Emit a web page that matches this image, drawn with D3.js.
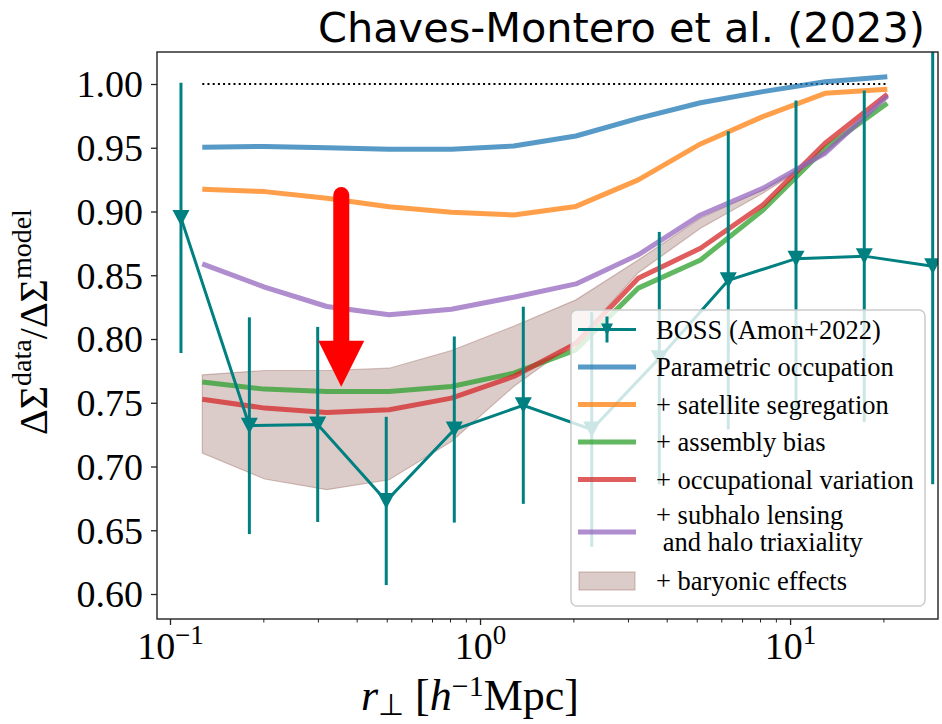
<!DOCTYPE html>
<html>
<head>
<meta charset="utf-8">
<script src="https://cdn.jsdelivr.net/npm/d3@7/dist/d3.min.js"></script>
<style>
  body { margin: 0; background: #fff; }
  svg { display: block; }
</style>
</head>
<body>
<svg id="chart" width="942" height="724"></svg>
<script>
// ---- data ----
// BOSS lensing ratio measurements (Amon+2022)
const bossR   = [0.1085, 0.1803, 0.2995, 0.4983, 0.826, 1.379, 2.292, 3.786, 6.32, 10.45, 17.35, 28.84];
const bossVal = [0.895, 0.732, 0.733, 0.673, 0.729, 0.748, 0.729, 0.785, 0.846, 0.863, 0.865, 0.857];
const bossErr = [0.106, 0.085, 0.0765, 0.066, 0.073, 0.0773, 0.092, 0.099, 0.117, 0.124, 0.130, 0.171];

// model radial bins
const modelR = [0.1271, 0.2019, 0.3206, 0.5091, 0.8085, 1.284, 2.039, 3.238, 5.142, 8.166, 12.97, 20.59];
const parametric   = [0.9504, 0.9510, 0.9500, 0.9488, 0.9488, 0.9514, 0.9592, 0.9730, 0.9853, 0.9940, 1.0018, 1.0057];
const satellite    = [0.9175, 0.9156, 0.9104, 0.9038, 0.8994, 0.8973, 0.9040, 0.9248, 0.9530, 0.9744, 0.9927, 0.9958];
const assembly     = [0.7662, 0.7607, 0.7588, 0.7588, 0.7627, 0.7732, 0.7915, 0.8399, 0.8620, 0.9010, 0.9496, 0.9849];
const occupational = [0.7528, 0.7458, 0.7424, 0.7445, 0.7536, 0.7706, 0.7965, 0.8477, 0.8712, 0.9050, 0.9535, 0.9920];
const subhalo      = [0.8589, 0.8407, 0.8255, 0.8190, 0.8234, 0.8328, 0.8432, 0.8660, 0.8973, 0.9182, 0.9457, 0.9906];
const baryonLow    = [0.7105, 0.6902, 0.6818, 0.6896, 0.7196, 0.7627, 0.7980, 0.8520, 0.8869, 0.9143, 0.9450, 0.9890];
const baryonHigh   = [0.7719, 0.7753, 0.7753, 0.7771, 0.7910, 0.8100, 0.8307, 0.8620, 0.8947, 0.9170, 0.9465, 0.9910];

const seriesNames = ["Parametric occupation", "+ satellite segregation", "+ assembly bias",
                     "+ occupational variation", "+ subhalo lensing", "+ baryonic effects"];
const bossName = "BOSS (Amon+2022)";
const subhaloSecondLine = " and halo triaxiality";

const yTicks = [0.60, 0.65, 0.70, 0.75, 0.80, 0.85, 0.90, 0.95, 1.00];
const xMajor = [0.1, 1, 10];
const xMajorExp = ["\u22121", "0", "1"];
const xMinor = [0.2,0.3,0.4,0.5,0.6,0.7,0.8,0.9, 2,3,4,5,6,7,8,9, 20];

// reference level and highlighted drop
const unityLevel = 1.0;
const arrowR = 0.3568, arrowFrom = 0.9129, arrowTo = 0.7626;

const titleText = "Chaves-Montero et al. (2023)";

// ---- layout ----
const svg = d3.select("#chart");
const L = 157, R = 938, T = 52, B = 619;

const x = d3.scaleLog().domain([0.0908, 30]).range([L, R]);
const y = d3.scaleLinear().domain([0.5804, 1.0251]).range([B, T]);

const serif = "'Liberation Serif', 'Times New Roman', serif";

const colors = {
  blue: "#1f77b4", orange: "#ff7f0e", green: "#2ca02c",
  red: "#d62728", purple: "#9467bd", brown: "#8c564b", teal: "#008080"
};

svg.append("defs").append("clipPath").attr("id", "plotclip")
  .append("rect").attr("x", L).attr("y", T).attr("width", R - L).attr("height", B - T);

const plot = svg.append("g").attr("clip-path", "url(#plotclip)");

// dotted unity line over the model range
plot.append("line")
  .attr("x1", x(modelR[0])).attr("x2", x(modelR[modelR.length - 1]))
  .attr("y1", y(unityLevel)).attr("y2", y(unityLevel))
  .attr("stroke", "#000").attr("stroke-width", 2).attr("stroke-dasharray", "2,3.2");

// baryonic band
const area = d3.area()
  .x((d, i) => x(modelR[i]))
  .y0((d, i) => y(baryonLow[i]))
  .y1((d, i) => y(baryonHigh[i]));
plot.append("path").datum(modelR)
  .attr("d", area)
  .attr("fill", colors.brown).attr("fill-opacity", 0.3)
  .attr("stroke", colors.brown).attr("stroke-opacity", 0.35).attr("stroke-width", 1.2);

// model curves
const line = d3.line().x((d, i) => x(modelR[i])).y(d => y(d));
const curves = [
  { v: parametric, c: colors.blue },
  { v: satellite, c: colors.orange },
  { v: assembly, c: colors.green },
  { v: occupational, c: colors.red },
  { v: subhalo, c: colors.purple }
];
curves.forEach(s => {
  plot.append("path").datum(s.v)
    .attr("d", line)
    .attr("fill", "none")
    .attr("stroke", s.c).attr("stroke-opacity", 0.75)
    .attr("stroke-width", 5).attr("stroke-linejoin", "round");
});

// BOSS measurements: error bars, connecting line, down-triangle markers
const boss = plot.append("g");
boss.selectAll("line.err").data(bossR).join("line")
  .attr("class", "err")
  .attr("x1", d => x(d)).attr("x2", d => x(d))
  .attr("y1", (d, i) => y(bossVal[i] - bossErr[i]))
  .attr("y2", (d, i) => y(bossVal[i] + bossErr[i]))
  .attr("stroke", colors.teal).attr("stroke-width", 3);
boss.append("path").datum(bossVal)
  .attr("d", d3.line().x((d, i) => x(bossR[i])).y(d => y(d)))
  .attr("fill", "none").attr("stroke", colors.teal).attr("stroke-width", 3);
const tri = (cx, cy, w, h) =>
  `M${cx - w / 2},${cy - h / 2}L${cx + w / 2},${cy - h / 2}L${cx},${cy + h / 2}Z`;
boss.selectAll("path.mk").data(bossR).join("path")
  .attr("class", "mk")
  .attr("d", (d, i) => tri(x(d), y(bossVal[i]), 17, 16))
  .attr("fill", colors.teal);

// red arrow marking the drop
const ax = x(arrowR), ay0 = y(arrowFrom), ay1 = y(arrowTo);
const headLen = 46, headW = 46;
svg.append("line")
  .attr("x1", ax).attr("x2", ax)
  .attr("y1", ay0).attr("y2", ay1 - headLen + 2)
  .attr("stroke", "#ff0000").attr("stroke-width", 16).attr("stroke-linecap", "round");
svg.append("path")
  .attr("d", `M${ax - headW / 2},${ay1 - headLen}L${ax + headW / 2},${ay1 - headLen}L${ax},${ay1}Z`)
  .attr("fill", "#ff0000");

// ---- axes ----
const yAxis = svg.append("g").attr("transform", `translate(${L},0)`)
  .call(d3.axisLeft(y).tickValues(yTicks).tickFormat(d3.format(".2f")).tickSize(6).tickPadding(8));
yAxis.select(".domain").remove();
yAxis.selectAll(".tick line").attr("stroke", "#222").attr("stroke-width", 1.3);
yAxis.selectAll(".tick text")
  .attr("font-family", serif).attr("font-size", 38).attr("fill", "#000").attr("dy", "0.34em");

const xAxis = svg.append("g").attr("transform", `translate(0,${B})`)
  .call(d3.axisBottom(x).tickValues(xMajor).tickFormat(() => "").tickSize(6));
xAxis.select(".domain").remove();
xAxis.selectAll(".tick line").attr("stroke", "#222").attr("stroke-width", 1.3);
xAxis.selectAll(".tick text").each(function (d, i) {
  const t = d3.select(this)
    .attr("font-family", serif).attr("fill", "#000")
    .attr("y", 40).attr("dy", 0).attr("text-anchor", "middle");
  t.append("tspan").attr("font-size", 38).text("10");
  t.append("tspan").attr("font-size", 27).attr("dy", -15).text(xMajorExp[i]);
});

const xMinorAxis = svg.append("g").attr("transform", `translate(0,${B})`)
  .call(d3.axisBottom(x).tickValues(xMinor).tickFormat(() => "").tickSize(3.5));
xMinorAxis.select(".domain").remove();
xMinorAxis.selectAll(".tick line").attr("stroke", "#222").attr("stroke-width", 1);

// frame
svg.append("rect")
  .attr("x", L).attr("y", T).attr("width", R - L).attr("height", B - T)
  .attr("fill", "none").attr("stroke", "#222").attr("stroke-width", 1.4);

// axis labels
const xl = svg.append("text")
  .attr("x", 470).attr("y", 710)
  .attr("text-anchor", "middle")
  .attr("font-family", serif).attr("font-size", 44).attr("fill", "#000");
xl.append("tspan").attr("font-style", "italic").text("r");
xl.append("tspan").attr("font-size", 30).attr("dy", 5).text("\u22a5");
xl.append("tspan").attr("dy", -5).text(" [");
xl.append("tspan").attr("font-style", "italic").text("h");
xl.append("tspan").attr("font-size", 30).attr("dy", -14).text("\u22121");
xl.append("tspan").attr("dy", 14).text("Mpc]");

const yl = svg.append("text")
  .attr("transform", `translate(47,322) rotate(-90)`)
  .attr("text-anchor", "middle")
  .attr("font-family", serif).attr("font-size", 40).attr("fill", "#000");
yl.append("tspan").text("\u0394\u03a3");
yl.append("tspan").attr("font-size", 28).attr("dy", -16).text("data");
yl.append("tspan").attr("dy", 16).text("/\u0394\u03a3");
yl.append("tspan").attr("font-size", 28).attr("dy", -16).text("model");

// title
svg.append("text")
  .attr("x", 925).attr("y", 42)
  .attr("text-anchor", "end")
  .attr("font-family", "'DejaVu Sans', 'Noto Sans', sans-serif").attr("font-size", 40)
  .attr("textLength", 607).attr("lengthAdjust", "spacingAndGlyphs")
  .attr("fill", "#000")
  .text(titleText);

// ---- legend ----
const lg = svg.append("g");
lg.append("rect")
  .attr("x", 571).attr("y", 310).attr("width", 354).attr("height", 296)
  .attr("rx", 6)
  .attr("fill", "#fff").attr("fill-opacity", 0.8)
  .attr("stroke", "#cccccc").attr("stroke-width", 1.5);

const hx0 = 578, hx1 = 636, tx = 656, legendFont = 26.5;
const rowY = [329.5, 367, 404.5, 442, 479.5, 532, 581];

// BOSS handle
lg.append("line").attr("x1", hx0).attr("x2", hx1).attr("y1", rowY[0]).attr("y2", rowY[0])
  .attr("stroke", colors.teal).attr("stroke-width", 3);
lg.append("line").attr("x1", (hx0 + hx1) / 2).attr("x2", (hx0 + hx1) / 2)
  .attr("y1", rowY[0] - 13).attr("y2", rowY[0] + 13)
  .attr("stroke", colors.teal).attr("stroke-width", 3);
lg.append("path").attr("d", tri((hx0 + hx1) / 2, rowY[0], 12, 12)).attr("fill", colors.teal);
lg.append("text").attr("x", tx).attr("y", rowY[0] + 9)
  .attr("font-family", serif).attr("font-size", legendFont).attr("fill", "#000").text(bossName);

const lineCols = [colors.blue, colors.orange, colors.green, colors.red, colors.purple];
lineCols.forEach((c, i) => {
  const yy = rowY[i + 1];
  lg.append("line").attr("x1", hx0).attr("x2", hx1).attr("y1", yy).attr("y2", yy)
    .attr("stroke", c).attr("stroke-opacity", 0.75).attr("stroke-width", 5);
  if (i < 4) {
    lg.append("text").attr("x", tx).attr("y", yy + 9)
      .attr("font-family", serif).attr("font-size", legendFont).attr("fill", "#000").text(seriesNames[i]);
  }
});
const sub = lg.append("text")
  .attr("font-family", serif).attr("font-size", legendFont).attr("fill", "#000")
  .style("white-space", "pre");
sub.append("tspan").attr("x", tx).attr("y", 524).text(seriesNames[4]);
sub.append("tspan").attr("x", tx).attr("y", 551).text(subhaloSecondLine);

lg.append("rect").attr("x", 579).attr("y", 572).attr("width", 56).attr("height", 18)
  .attr("fill", colors.brown).attr("fill-opacity", 0.3)
  .attr("stroke", colors.brown).attr("stroke-opacity", 0.35).attr("stroke-width", 1.2);
lg.append("text").attr("x", tx).attr("y", rowY[6] + 9)
  .attr("font-family", serif).attr("font-size", legendFont).attr("fill", "#000").text(seriesNames[5]);
</script>
</body>
</html>
